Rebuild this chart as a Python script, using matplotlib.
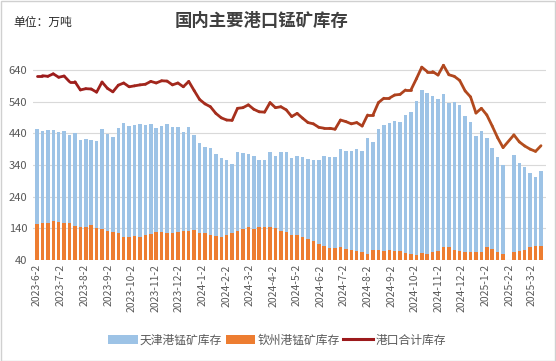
import matplotlib
matplotlib.use("Agg")
import matplotlib.pyplot as plt
import matplotlib.dates as mdates
from matplotlib.collections import LineCollection
from matplotlib.lines import Line2D
from matplotlib.patches import Patch, Rectangle
import numpy as np
import pandas as pd

plt.rcParams['font.family'] = ['Noto Sans CJK SC', 'DejaVu Sans']

# ---- data (weekly, from 2023-06-02) ----
start_date = "2023-06-02"
n_weeks = 94
gap_index = 87  # week with no port data (Spring Festival)

tianjin = [454, 448, 450, 451, 443, 448, 435, 442, 419, 423,
           419, 415, 453, 438, 429, 456, 474, 463, 466, 468,
           466, 469, 456, 464, 468, 459, 459, 443, 459, 435,
           408, 396, 393, 374, 361, 356, 343, 380, 377, 375,
           368, 356, 356, 380, 368, 380, 380, 363, 370, 364,
           358, 357, 356, 367, 364, 364, 391, 385, 383, 390,
           385, 424, 413, 453, 465, 472, 480, 477, 498, 506,
           542, 576, 566, 558, 548, 563, 537, 538, 530, 495,
           477, 432, 447, 424, 393, 364, 340, None, 372, 345,
           335, 316, 301, 321]

qinzhou = [154, 158, 158, 163, 161, 158, 156, 147, 145, 145,
           150, 140, 137, 132, 129, 124, 114, 112, 116, 112,
           118, 121, 128, 129, 124, 126, 129, 132, 133, 135,
           126, 124, 119, 116, 114, 118, 126, 133, 137, 143,
           138, 143, 143, 143, 140, 133, 129, 119, 119, 113,
           107, 100, 92, 85, 77, 77, 81, 76, 73, 70,
           66, 59, 72, 72, 69, 72, 69, 69, 63, 59,
           55, 63, 59, 66, 68, 80, 80, 72, 69, 66,
           66, 64, 64, 80, 74, 64, 58, None, 66, 69,
           72, 80, 84, 84]

total = [622, 622, 620, 628, 617, 621, 603, 603, 577, 581,
         580, 570, 602, 582, 571, 592, 599, 587, 590, 593,
         595, 604, 599, 606, 605, 593, 599, 587, 604, 575,
         547, 533, 524, 503, 489, 482, 481, 519, 521, 530,
         516, 508, 507, 537, 521, 524, 514, 493, 503, 488,
         474, 470, 459, 456, 456, 453, 482, 477, 470, 474,
         463, 498, 498, 537, 551, 551, 561, 563, 577, 577,
         612, 649, 635, 635, 624, 655, 625, 620, 607, 574,
         555, 504, 519, 498, 463, 426, 395, None, 435, 413,
         400, 390, 383, 401]

y_ticks = [40, 140, 240, 340, 440, 540, 640]
series_names = ["天津港锰矿库存", "钦州港锰矿库存", "港口合计库存"]
title_text = "国内主要港口锰矿库存"
unit_text = "单位：万吨"

dates = pd.date_range(start_date, periods=n_weeks, freq="7D")
xd = mdates.date2num(dates.to_pydatetime())

tj = np.array([np.nan if v is None else v for v in tianjin], float)
qz = np.array([np.nan if v is None else v for v in qinzhou], float)
tot = np.array([np.nan if v is None else v for v in total], float)

W, H = 556, 361
fig = plt.figure(figsize=(W / 100, H / 100), dpi=100)
fig.patch.set_facecolor("white")
fig.patches.append(Rectangle((0.5 / W, 0.5 / H), 1 - 1.5 / W, 1 - 1.5 / H,
                             transform=fig.transFigure, fill=False,
                             edgecolor="#D0D0D0", linewidth=1.0))

ax = fig.add_axes([33 / W, (H - 260) / H, (546 - 33) / W, (260 - 60.5) / H])
ax.set_facecolor("white")

blue = "#9DC3E6"
orange = "#ED7D31"
bw = 4.5
m = ~np.isnan(tj)
ax.bar(xd[m], tj[m], width=bw, bottom=0, color=blue, zorder=2)
m2 = ~np.isnan(qz)
ax.bar(xd[m2], qz[m2], width=bw, bottom=0, color=orange, zorder=3)

# gradient line for total
mt = ~np.isnan(tot)
lx = xd[mt]
ly = tot[mt]
pts = np.column_stack([lx, ly]).reshape(-1, 1, 2)
segs = np.concatenate([pts[:-1], pts[1:]], axis=1)
c0 = np.array(matplotlib.colors.to_rgb("#9C1A1C"))
c1 = np.array(matplotlib.colors.to_rgb("#B5501E"))
tt = np.linspace(0, 1, len(segs))
cols = [tuple(c0 + (c1 - c0) * t) for t in tt]
lc = LineCollection(segs, colors=cols, linewidths=2.0, capstyle="round",
                    joinstyle="round", zorder=4)
ax.add_collection(lc)

x0 = xd[0] - 4 / 5.42 * 7
x1 = xd[-1] + 5 / 5.42 * 7
ax.set_xlim(x0, x1)
ax.set_ylim(40, 670)
ax.set_yticks(y_ticks)
ax.yaxis.grid(True, color="#D9D9D9", linewidth=0.8, zorder=0)
ax.set_axisbelow(True)
for s in ax.spines.values():
    s.set_visible(False)

# monthly ticks on the 2nd
tick_dates = pd.date_range("2023-06-01", "2025-03-01", freq="MS") + pd.Timedelta(days=1)
ax.set_xticks(mdates.date2num(tick_dates.to_pydatetime()))
ax.set_xticklabels([f"{d.year}-{d.month}-{d.day}" for d in tick_dates],
                   rotation=90, fontsize=7.5, color="#595959")
ax.tick_params(axis="x", length=0, pad=3)
ax.tick_params(axis="y", length=0, pad=4, labelsize=8, labelcolor="#595959")

fig.text(262 / W, 1 - 21 / H, title_text, ha="center", va="center",
         fontsize=12.5, fontweight="bold", color="#404040")
fig.text(13 / W, 1 - 22 / H, unit_text, ha="left", va="center",
         fontsize=8.5, color="#262626")

handles = [Patch(facecolor=blue, edgecolor="none"),
           Patch(facecolor=orange, edgecolor="none"),
           Line2D([0], [0], color="#9C1A1C", linewidth=2.2)]
leg = fig.legend(handles, series_names, loc="center", bbox_to_anchor=(277 / W, 1 - 340 / H),
                 ncol=3, frameon=False, fontsize=8.5, handlelength=2.5,
                 handleheight=0.8, handletextpad=0.2, columnspacing=0.3,
                 labelcolor="#595959")

fig.savefig("out.png", dpi=100, facecolor="white")
